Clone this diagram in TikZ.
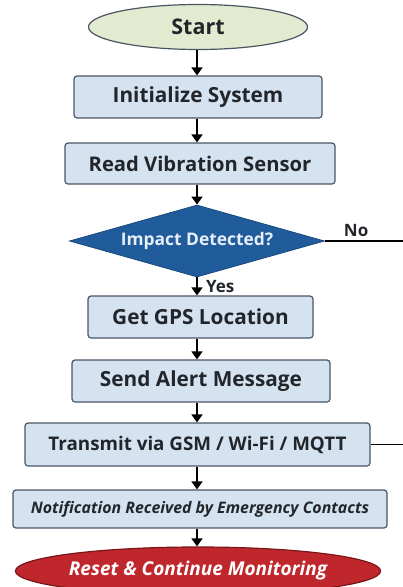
\documentclass[tikz,border=0pt]{standalone}
\usepackage{fontspec}
\setmainfont{Open Sans}
\usetikzlibrary{shapes.geometric,arrows.meta}
\definecolor{boxfill}{HTML}{D5E2EF}
\definecolor{boxline}{HTML}{4A5663}
\definecolor{startfill}{HTML}{E2EBCF}
\definecolor{diafill}{HTML}{205C9C}
\definecolor{diatext}{HTML}{E6EEF8}
\definecolor{endfill}{HTML}{C0272D}
\definecolor{endline}{HTML}{7A1518}
\definecolor{txt}{HTML}{22262B}
\tikzset{
  stepbox/.style={draw=boxline, line width=1.2pt, fill=boxfill, rounded corners=3pt,
    inner sep=0pt, text=txt, font=\bfseries\fontsize{20.8}{24}\selectfont},
  flow/.style={line width=1.6pt, -{Triangle[width=11pt,length=8pt]}, draw=black},
  plain/.style={line width=1.1pt, draw=black},
}
\begin{document}
\begin{tikzpicture}[x=1pt,y=-1pt]
\clip (0,0) rectangle (403,587);
\fill[white] (0,0) rectangle (403,587);
\node[ellipse, draw=boxline, line width=1.2pt, fill=startfill, minimum width=219pt, minimum height=45pt, inner sep=0pt, text=txt, font=\bfseries\fontsize{21.5}{24}\selectfont] (start) at (198,27) {Start};
\node[stepbox, minimum width=248pt, minimum height=42pt] (init) at (198,97) {Initialize System};
\node[stepbox, minimum width=270pt, minimum height=41pt, font=\bfseries\fontsize{20.2}{24}\selectfont] (read) at (200,163.5) {Read Vibration Sensor};
\node[diamond, aspect=3.55, fill=diafill, draw=diafill!80!black, line width=0.8pt, inner sep=0pt, minimum width=255pt, minimum height=72pt, text=diatext, font=\bfseries\fontsize{17.4}{20}\selectfont] (dec) at (197,241) {Impact Detected?};
\node[stepbox, minimum width=225pt, minimum height=42pt] (gps) at (200.5,317) {Get GPS Location};
\node[stepbox, minimum width=258pt, minimum height=42pt] (send) at (201,381) {Send Alert Message};
\node[stepbox, minimum width=345pt, minimum height=43pt, font=\bfseries\fontsize{18.8}{22}\selectfont] (tx) at (197.5,444.5) {Transmit via GSM / Wi-Fi / MQTT};
\node[stepbox, minimum width=374pt, minimum height=38pt, font=\bfseries\itshape\fontsize{15.9}{18}\selectfont] (notif) at (200,509) {Notification Received by Emergency Contacts};
\node[ellipse, draw=endline, line width=1.2pt, fill=endfill, minimum width=336pt, minimum height=48pt, inner sep=0pt, text=white, font=\bfseries\itshape\fontsize{19}{22}\selectfont] (reset) at (198,571) {Reset \& Continue Monitoring};
\coordinate (noend) at (403,241);
\coordinate (txend) at (403,444.5);
\draw[flow] (start.south -| dec.north) -- (dec.north |- init.north);
\draw[flow] (init.south -| dec.north) -- (dec.north |- read.north);
\draw[flow] (read.south -| dec.north) -- (dec.north);
\draw[flow] (dec.south) -- (dec.south |- gps.north) node[midway, right=5pt, text=txt, font=\bfseries\fontsize{17}{20}\selectfont] (yes) {Yes};
\draw[flow] (gps.south -| dec.south) -- (dec.south |- send.north);
\draw[flow] (send.south -| dec.south) -- (dec.south |- tx.north);
\draw[flow] (tx.south -| dec.south) -- (dec.south |- notif.north);
\draw[flow] (notif.south -| dec.south) -- (dec.south |- reset.north);
\draw[plain] (dec.east) -- (noend) node[pos=0.4, above=0pt, text=txt, font=\bfseries\fontsize{17}{20}\selectfont] (no) {No};
\draw[plain] (tx.east) -- (txend);
\end{tikzpicture}
\end{document}
